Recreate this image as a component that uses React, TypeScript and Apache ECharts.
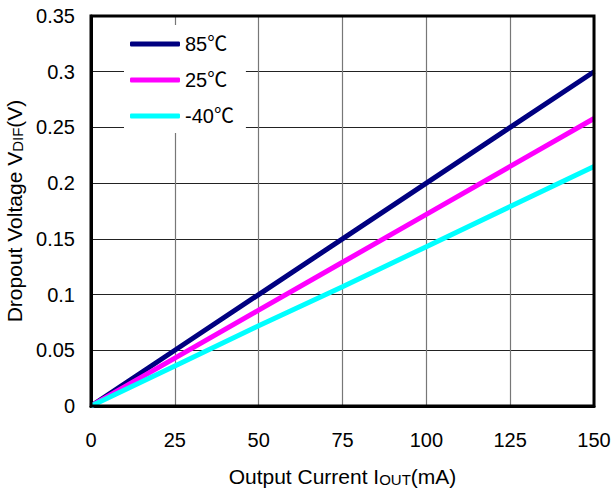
import React, { useEffect, useRef } from "react";
import * as echarts from "echarts";

const currents = [0, 25, 50, 75, 100, 125, 150];
const v85 = [0, 0.05, 0.1, 0.15, 0.2, 0.25, 0.3];
const v25 = [0, 0.043, 0.086, 0.129, 0.172, 0.215, 0.258];
const vm40 = [0, 0.036, 0.072, 0.107, 0.143, 0.179, 0.215];
const seriesNames = ["85\u2103", "25\u2103", "-40\u2103"];
const seriesColors = ["#000080", "#FF00FF", "#00FFFF"];

const FONT = "'Liberation Sans', Arial, 'Noto Sans CJK JP', sans-serif";

export default function App() {
  const ref = useRef<HTMLDivElement>(null);
  useEffect(() => {
    if (!ref.current) return;
    const chart = echarts.init(ref.current, null, { renderer: "svg" });
    const allData = [v85, v25, vm40];
    chart.setOption({
      animation: false,
      backgroundColor: "#fff",
      textStyle: { fontFamily: FONT },
      grid: {
        left: 91,
        right: 20,
        top: 16,
        bottom: 86,
        show: true,
        borderColor: "#000",
        borderWidth: 3,
        containLabel: false,
        outerBoundsMode: "none",
        z: 3,
      },
      legend: {
        orient: "vertical",
        left: 124,
        top: 25,
        padding: [9, 12, 7, 6],
        backgroundColor: "#fff",
        icon: "roundRect",
        itemWidth: 50,
        itemHeight: 5,
        itemGap: 16,
        data: seriesNames,
        textStyle: { fontSize: 20, lineHeight: 20, color: "#000", fontFamily: FONT },
      },
      xAxis: {
        type: "value",
        min: 0,
        max: 150,
        interval: 25,
        name: "Output Current I{s|OUT}(mA)",
        nameLocation: "middle",
        nameGap: 60,
        nameTextStyle: {
          fontSize: 21,
          color: "#000",
          fontFamily: FONT,
          rich: { s: { fontSize: 15, color: "#000", fontFamily: FONT, verticalAlign: "bottom" } },
        },
        axisLine: { show: true, lineStyle: { color: "#000", width: 3 } },
        axisTick: { show: false },
        axisLabel: { fontSize: 20, color: "#000", margin: 24, fontFamily: FONT },
        splitLine: { show: true, lineStyle: { color: "#777", width: 1.2 } },
      },
      yAxis: {
        type: "value",
        min: 0,
        max: 0.35,
        interval: 0.05,
        name: "Dropout Voltage V{s|DIF}(V)",
        nameLocation: "middle",
        nameRotate: 90,
        nameGap: 64,
        nameTextStyle: {
          fontSize: 21,
          color: "#000",
          fontFamily: FONT,
          rich: { s: { fontSize: 15, color: "#000", fontFamily: FONT, verticalAlign: "bottom" } },
        },
        axisLine: { show: true, lineStyle: { color: "#000", width: 3 } },
        axisTick: { show: false },
        axisLabel: { fontSize: 20, color: "#000", margin: 16, fontFamily: FONT },
        splitLine: { show: true, lineStyle: { color: "#222", width: 1 } },
      },
      series: seriesNames.map((name, i) => ({
        name,
        type: "line",
        symbol: "none",
        z: 2,
        color: seriesColors[i],
        lineStyle: { width: 5, color: seriesColors[i] },
        data: currents.map((c, j) => [c, allData[i][j]]),
      })),
    });
    return () => chart.dispose();
  }, []);
  return (
    <div
      ref={ref}
      style={{ position: "fixed", left: 0, top: 0, width: 614, height: 492 }}
    />
  );
}
